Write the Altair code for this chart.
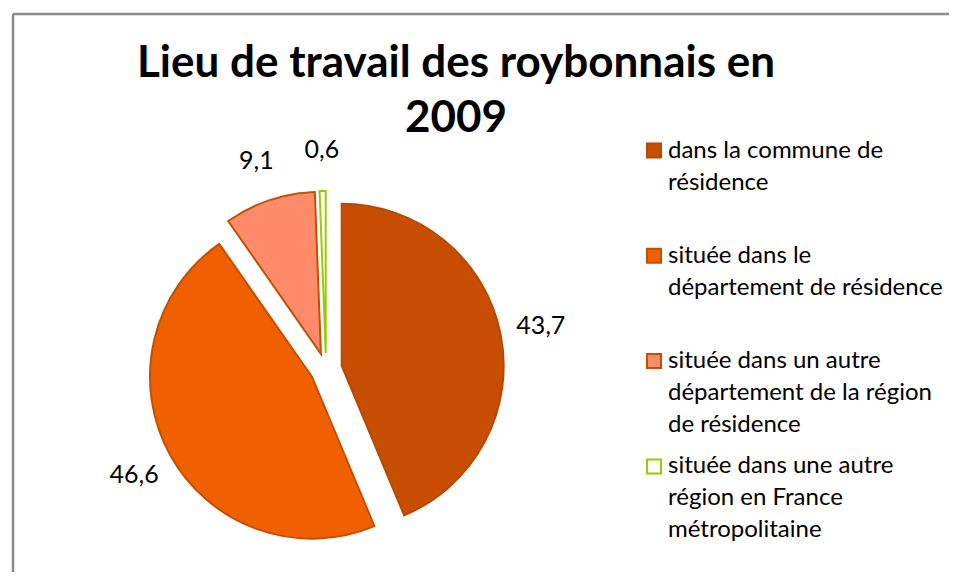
import altair as alt
import pandas as pd

# ---- data ----
categories = [
    "dans la commune de résidence",
    "située dans le département de résidence",
    "située dans un autre département de la région de résidence",
    "située dans une autre région en France métropolitaine",
]
values = [43.7, 46.6, 9.1, 0.6]
legend_labels = [
    "dans la commune de\nrésidence",
    "située dans le\ndépartement de résidence",
    "située dans un autre\ndépartement de la région\nde résidence",
    "située dans une autre\nrégion en France\nmétropolitaine",
]
title_text = "Lieu de travail des roybonnais en\n2009"

# ---- styles ----
fills = ["#C74E00", "#F06000", "#FF8B6B", "#FFFFFF"]
strokes = ["#B84A00", "#C25100", "#C25100", "#99CC00"]
FONT = "Lato"

CX, CY, R, EXPLODE, LABEL_R = 318, 361, 162, 16, 219
LEG_X, LEG_Y0, LEG_STEP = 646, 142.5, 105.3

df = pd.DataFrame({"category": categories, "value": values, "legend": legend_labels})

color = alt.Color("category:N", scale=alt.Scale(domain=categories, range=fills), legend=None)
stroke = alt.Stroke("category:N", scale=alt.Scale(domain=categories, range=strokes), legend=None)
theta_scale = alt.Scale(domain=[0, 100], range=[0, 6.283185307179586])

base = (
    alt.Chart(df)
    .transform_window(cum="sum(value)", idx="row_number()", frame=[None, 0])
    .transform_calculate(start="datum.cum - datum.value", end="datum.cum")
    .transform_calculate(mid="(datum.start + datum.end) / 2")
    .transform_calculate(ang="datum.mid / 100 * 2 * PI")
    .transform_calculate(
        px=f"{CX} + {EXPLODE} * sin(datum.ang)",
        py=f"{CY} - {EXPLODE} * cos(datum.ang)",
        ly=f"{LEG_Y0} + (datum.idx - 1) * {LEG_STEP}",
        label="replace(format(datum.value, '.1f'), '.', ',')",
    )
)

arcs = base.mark_arc(radius=R, strokeWidth=2, strokeJoin="miter").encode(
    theta=alt.Theta("start:Q", scale=theta_scale, stack=None),
    theta2="end:Q",
    x=alt.X("px:Q", scale=None, axis=None),
    y=alt.Y("py:Q", scale=None, axis=None),
    color=color,
    stroke=stroke,
)

labels = base.mark_text(
    radius=LABEL_R, font=FONT, fontSize=25, color="#000000", align="center", baseline="middle"
).encode(
    theta=alt.Theta("mid:Q", scale=theta_scale, stack=None),
    text="label:N",
    x=alt.value(CX),
    y=alt.value(CY),
)

squares = base.mark_square(size=196, strokeWidth=2, filled=True, opacity=1).encode(
    x=alt.value(LEG_X),
    y=alt.Y("ly:Q", scale=None, axis=None),
    color=color,
    stroke=stroke,
)

legend_text = base.mark_text(
    align="left", baseline="alphabetic", lineBreak="\n", lineHeight=32,
    font=FONT, fontSize=24, color="#000000", dy=7,
).encode(
    x=alt.value(LEG_X + 14),
    y=alt.Y("ly:Q", scale=None, axis=None),
    text="legend:N",
)

title = alt.Chart(pd.DataFrame({"t": [title_text]})).mark_text(
    font=FONT, fontSize=44, fontWeight="bold", align="center", baseline="alphabetic",
    lineBreak="\n", lineHeight=55, color="#000000",
).encode(x=alt.value(448), y=alt.value(69), text="t:N")

frame_df = pd.DataFrame({"a": [0]})
border_v = alt.Chart(frame_df).mark_rule(color="#8C8C8C", strokeWidth=2.5).encode(
    x=alt.value(5), y=alt.value(6), y2=alt.value(564)
)
border_h = alt.Chart(frame_df).mark_rule(color="#8C8C8C", strokeWidth=2.5).encode(
    x=alt.value(5), x2=alt.value(941), y=alt.value(6)
)

chart = (
    alt.layer(border_v, border_h, arcs, labels, squares, legend_text, title)
    .properties(width=941, height=564, autosize=alt.AutoSizeParams(type="none"), padding=0,
                background="#FFFFFF")
    .configure_view(stroke=None)
)

chart.save("out.html", embed_options={"renderer": "svg", "actions": False})
